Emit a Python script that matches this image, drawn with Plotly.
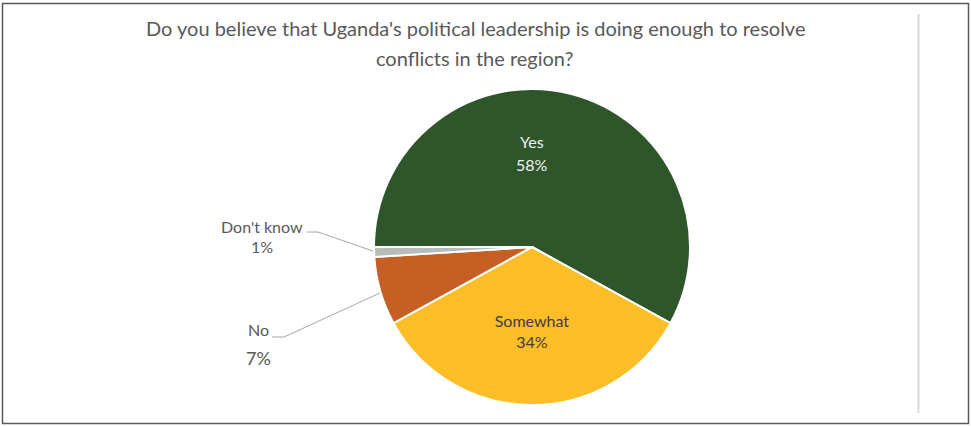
import plotly.graph_objects as go

labels = ["Yes", "Somewhat", "No", "Don't know"]
values = [58, 34, 7, 1]
colors = ["#2E562A", "#FBBE27", "#C55F24", "#B7BBBB"]
title_lines = ["Do you believe that Uganda's political leadership is doing enough to resolve",
               "conflicts in the region?"]

W, H = 971, 426
cx, cy, r = 532, 247, 158

fig = go.Figure(go.Pie(
    labels=labels, values=values, sort=False, direction="clockwise", rotation=270,
    marker=dict(colors=colors, line=dict(color="white", width=2)),
    texttemplate=["", "%{label}<br>%{percent}", "", ""],
    textposition="inside", insidetextorientation="horizontal",
    textfont=dict(family="Lato", size=16, color=["#F2F2F2", "#404040", "#404040", "#404040"]),
    domain=dict(x=[(cx - r) / W, (cx + r) / W], y=[(H - cy - r) / H, (H - cy + r) / H]),
    showlegend=False, hoverinfo="label+percent",
))

font = dict(family="Lato", color="#595959")
ann = [
    dict(x=475 / W, y=1 - 28 / H, text=title_lines[0], font=dict(size=20, **font)),
    dict(x=475 / W, y=1 - 58 / H, text=title_lines[1], font=dict(size=20, **font)),
    dict(x=532 / W, y=1 - 142 / H, text=labels[0], font=dict(size=16, family="Lato", color="#F2F2F2")),
    dict(x=532 / W, y=1 - 164 / H, text=f"{values[0]}%", font=dict(size=16, family="Lato", color="#F2F2F2")),
    dict(x=262 / W, y=1 - 226 / H, text=labels[3], font=dict(size=16, **font)),
    dict(x=262 / W, y=1 - 246 / H, text=f"{values[3]}%", font=dict(size=16, **font)),
    dict(x=258 / W, y=1 - 329 / H, text=labels[2], font=dict(size=16, **font)),
    dict(x=258 / W, y=1 - 358 / H, text=f"{values[2]}%", font=dict(size=18, **font)),
]
for a in ann:
    a.update(xref="paper", yref="paper", showarrow=False, xanchor="center", yanchor="middle")

def px(x, y):
    return x / W, 1 - y / H

shapes = [
    dict(type="rect", xref="paper", yref="paper", x0=2.5 / W, x1=968.5 / W, y0=1 - 423.5 / H, y1=1 - 3.5 / H,
         line=dict(color="#595959", width=1.5)),
    dict(type="line", xref="paper", yref="paper", x0=918.5 / W, x1=918.5 / W, y0=1 - 413 / H, y1=1 - 14 / H,
         line=dict(color="#D9D9D9", width=2)),
]
for pts in [[(307, 232), (318, 232), (373, 251)], [(272, 337), (284, 337), (380, 293)]]:
    path = "M " + " L ".join(f"{px(x, y)[0]},{px(x, y)[1]}" for x, y in pts)
    shapes.append(dict(type="path", xref="paper", yref="paper", path=path,
                       line=dict(color="#A6A6A6", width=1)))

fig.update_layout(width=W, height=H, margin=dict(l=0, r=0, t=0, b=0),
                  paper_bgcolor="white", plot_bgcolor="white",
                  annotations=ann, shapes=shapes)
fig.write_html("out.html", config={"displayModeBar": False},
               post_script="document.body.style.margin='0';")
